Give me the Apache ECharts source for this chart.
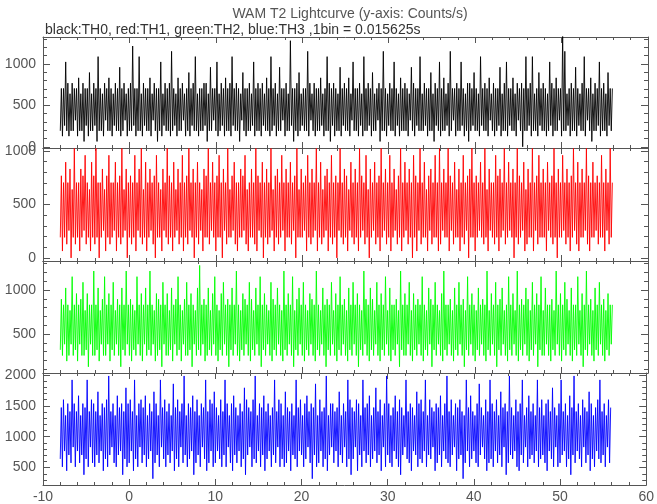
<!DOCTYPE html>
<html><head><meta charset="utf-8">
<script src="https://cdn.jsdelivr.net/npm/echarts@6/dist/echarts.min.js"></script>
<style>html,body{margin:0;padding:0;background:#fff}#c{width:657px;height:504px}</style>
</head><body><div id="c"></div>
<script>
// Time axis: bins start at -8 s (rebinned to 0.125 s per point)
const tStart = -8;
const binSec = 0.125;

// TH0 (black) counts/s
const th0 = [
192,704,128,704,256,1024,192,768,128,640,192,768,192,704,320,704,
128,832,192,640,192,768,64,704,256,704,128,896,192,640,192,768,
256,704,64,1088,192,704,192,640,128,768,320,704,192,832,192,704,
128,640,256,768,192,704,192,960,128,704,192,768,320,640,128,704,
192,768,192,1216,256,704,128,704,192,1088,192,640,128,768,256,704,
192,704,192,832,128,640,320,768,192,704,64,704,192,1024,128,640,
256,768,192,704,192,768,128,1152,192,704,256,640,128,832,192,704,
192,768,320,640,128,704,192,896,128,704,256,768,192,1088,192,640,
128,704,192,704,192,768,256,768,64,640,192,960,192,704,320,704,
192,1024,128,640,192,768,256,704,128,832,192,704,192,768,128,1088,
256,704,192,768,192,704,64,640,320,896,192,704,128,704,192,768,
192,640,256,1024,128,704,192,768,192,704,128,768,256,640,192,832,
192,704,128,1088,192,704,256,768,128,640,192,960,192,704,320,704,
128,768,192,640,192,1280,256,704,64,704,192,768,128,896,192,640,
256,704,192,704,192,1152,128,768,320,640,192,768,128,704,192,704,
192,832,256,640,128,704,192,1088,192,768,64,704,256,768,128,704,
192,640,192,960,128,704,256,768,192,704,192,832,128,640,320,1024,
192,704,192,704,128,768,256,640,128,1088,192,704,192,768,256,704,
128,896,192,640,192,704,320,768,64,704,192,1152,192,704,128,640,
256,768,192,704,192,1024,128,704,256,640,128,832,192,704,192,768,
192,704,128,640,320,960,192,768,128,704,256,704,192,1088,192,640,
192,768,256,704,128,704,192,896,192,640,64,768,256,704,192,1024,
128,704,192,832,192,640,256,768,128,1152,192,704,320,704,128,768,
192,704,192,1024,256,704,128,640,192,768,64,768,192,704,256,896,
192,704,192,640,128,1088,256,704,192,768,192,704,128,832,320,640,
192,768,128,704,192,704,256,960,128,640,192,768,192,1024,128,704,
256,704,192,832,192,640,128,768,320,704,192,768,0,704,192,1088,
192,704,256,768,128,1088,192,640,192,704,128,896,256,704,192,768,
192,704,128,640,192,1024,256,768,128,704,192,832,192,704,320,704,
128,1344,192,1152,192,640,256,704,128,768,192,704,192,960,128,704,
256,640,192,768,192,1088,128,704,320,704,192,832,64,640,192,768,
192,704,256,1024,128,704,192,768,192,640,128,896,256,704,192,704
];
// TH1 (red) counts/s
const th1 = [
192,768,64,704,192,896,128,704,256,832,0,640,192,1024,128,704,
192,704,64,832,192,768,256,960,128,704,192,640,64,896,192,768,
128,1024,192,704,0,704,192,832,256,640,64,768,192,960,128,704,
192,704,256,896,64,704,192,768,128,1024,192,640,256,832,0,704,
192,768,128,704,192,960,64,704,256,832,192,1024,128,640,192,896,
64,704,192,832,256,704,128,768,0,960,192,704,192,640,64,832,
256,704,192,1024,128,768,192,704,64,896,192,640,256,832,128,704,
192,960,64,704,192,768,128,1024,256,704,192,832,0,704,192,896,
128,704,256,640,64,832,192,768,192,1024,128,704,256,896,192,704,
64,768,192,960,192,704,0,832,256,704,128,1024,192,640,192,768,
256,896,128,704,64,704,192,832,192,768,256,960,128,640,64,704,
192,832,192,704,128,1024,64,768,256,704,192,896,0,704,192,832,
128,704,192,1024,256,640,64,768,192,832,128,704,192,960,256,704,
64,832,192,704,192,896,128,704,256,768,0,1024,192,640,192,832,
192,704,256,768,64,960,192,704,128,832,192,704,256,1024,64,704,
192,896,128,640,192,768,256,832,64,704,192,960,128,704,192,768,
0,704,256,1024,192,704,128,832,192,768,64,640,256,896,192,704,
128,832,192,704,64,1024,192,768,256,704,128,960,192,640,0,832,
192,704,256,896,128,704,192,768,64,1024,192,704,256,832,128,704,
192,960,64,704,192,832,256,640,128,768,192,1024,64,704,192,896,
256,704,128,832,192,704,0,960,192,768,64,704,256,1024,128,704,
192,896,192,640,64,768,256,832,128,704,192,960,192,704,64,1024,
128,704,256,832,192,704,192,1024,64,768,256,704,128,896,192,640,
192,832,64,704,192,960,128,704,256,768,0,832,192,1024,192,704,
64,768,192,704,256,896,192,704,128,1024,192,640,64,832,256,704,
192,704,128,960,192,768,64,832,192,704,256,1024,128,704,192,896,
256,704,192,832,0,704,192,1024,128,768,192,704,256,896,64,640,
128,832,192,704,192,1024,64,704,256,768,128,960,192,704,192,832,
192,704,64,896,256,704,192,768,128,1024,192,704,0,832,192,704,
192,960,256,704,128,832,192,704,64,768,192,1024,256,704,128,896,
64,704,192,832,192,704,256,1024,128,768,64,704,192,896,192,704,
256,768,128,704,192,960,192,704,64,832,256,704,128,1024,192,704
];
// TH2 (green) counts/s
const th2 = [
320,896,256,832,384,1024,192,832,256,768,384,1152,256,832,320,960,
192,832,384,896,256,1088,256,768,320,960,128,832,384,832,256,1216,
256,832,320,1024,192,768,384,896,256,1152,256,832,384,960,192,832,
320,1088,256,768,384,896,256,832,128,1024,320,832,256,1216,384,832,
256,896,192,832,320,768,256,1152,384,832,256,960,192,832,384,1024,
256,832,320,1216,256,832,384,768,192,960,256,896,320,832,128,1088,
384,832,256,960,256,768,320,1024,192,832,384,896,256,1152,320,832,
192,768,384,896,256,1088,256,832,320,960,128,832,384,768,256,1024,
320,1280,256,832,384,896,192,832,256,1024,320,768,256,960,384,1152,
256,832,192,768,320,960,256,1088,384,832,256,896,128,832,320,1024,
256,832,384,1216,256,832,192,768,320,960,256,896,384,832,256,1088,
192,896,320,768,256,1024,384,832,256,1152,128,832,320,960,256,832,
384,768,256,1088,192,896,320,832,256,1024,384,832,256,768,192,1216,
320,832,256,960,384,832,256,1152,128,768,320,896,256,1024,384,832,
256,1088,192,832,320,768,256,960,384,896,256,832,192,1216,320,832,
256,768,384,1024,256,832,128,896,320,832,256,1088,384,768,256,960,
192,832,320,1152,256,832,384,896,256,768,192,1024,320,832,256,1088,
384,832,256,960,128,832,320,768,256,1216,384,896,256,832,192,1024,
320,896,256,768,384,1088,256,832,192,960,320,832,256,1152,384,768,
256,1024,192,832,320,832,256,896,384,768,128,1216,320,832,256,960,
256,832,384,1088,256,768,192,960,320,832,256,896,384,832,256,1152,
192,832,320,768,256,1024,384,896,128,832,320,1088,256,832,384,768,
256,960,192,1216,320,832,256,832,384,896,256,768,192,1024,320,832,
256,1088,384,832,256,896,128,768,320,1152,256,832,384,960,256,832,
192,768,320,1024,256,832,384,896,256,832,192,1216,320,768,256,960,
384,832,256,1088,128,832,320,896,256,1024,384,768,256,832,192,1152,
320,832,256,960,384,768,256,1216,192,832,320,896,256,832,384,1024,
256,896,192,768,320,1088,256,832,384,960,128,832,320,1152,256,768,
256,1024,384,832,256,832,192,896,320,768,256,1216,384,832,256,960,
192,832,320,1088,256,896,384,768,256,1024,192,832,320,832,256,1152,
384,768,256,960,128,832,320,1216,256,832,384,896,256,768,192,1024,
320,832,256,1088,384,832,256,896,192,768,320,960,256,832,384,832
];
// TH3 (blue) counts/s
const th3 = [
640,1472,512,1600,768,1344,448,1536,704,1408,576,1920,832,1536,512,1408,
768,1664,576,1344,704,1536,384,1472,640,1920,512,1408,832,1600,576,1536,
512,1408,704,1728,576,1344,768,1536,448,1472,640,1600,512,1984,704,1408,
832,1536,576,1344,512,1664,704,1472,768,1536,384,1408,640,1792,512,1536,
576,1600,768,1408,448,1920,640,1344,512,1536,832,1600,576,1472,704,1664,
512,1344,640,1536,768,1408,320,1728,576,1536,704,1344,512,1920,832,1472,
640,1600,512,1408,704,1536,576,1344,768,1856,448,1472,640,1600,512,1408,
832,1536,576,1984,704,1344,512,1536,640,1472,768,1664,384,1408,576,1600,
704,1344,512,1536,832,1472,640,1920,448,1408,576,1600,768,1536,512,1728,
576,1472,768,1344,640,1600,512,1408,704,1920,512,1536,832,1344,576,1536,
448,1664,704,1472,576,1344,768,1536,512,1408,640,1792,384,1600,704,1472,
832,1408,512,1600,640,1984,576,1344,768,1536,512,1472,704,1664,448,1408,
640,1536,768,1344,512,1472,704,1920,576,1408,832,1600,512,1536,640,1344,
512,1728,576,1472,768,1408,448,1536,704,1344,640,1920,512,1472,768,1600,
704,1344,512,1536,640,1664,832,1408,576,1536,320,1472,704,1856,512,1344,
576,1600,768,1408,512,1472,640,1984,448,1344,704,1536,832,1536,576,1408,
768,1472,512,1728,704,1344,576,1536,832,1408,512,1920,640,1600,384,1472,
640,1408,832,1600,448,1536,704,1344,512,1920,768,1472,576,1536,704,1664,
512,1344,640,1472,768,1792,576,1408,704,1600,448,1344,832,1536,512,1984,
704,1536,576,1344,512,1472,768,1664,640,1408,512,1600,384,1472,704,1344,
832,1920,640,1408,576,1536,448,1472,768,1344,704,1728,512,1536,640,1600,
576,1408,768,1920,512,1344,704,1600,640,1472,832,1408,448,1536,576,1472,
704,1664,512,1344,768,1536,640,1984,576,1408,512,1600,704,1344,832,1536,
448,1472,640,1600,704,1408,320,1344,576,1920,768,1472,512,1664,640,1408,
768,1344,576,1536,512,1856,704,1472,832,1344,640,1600,448,1408,576,1920,
640,1536,512,1408,768,1600,576,1344,704,1728,512,1472,832,1536,384,1408,
576,1984,704,1472,640,1344,768,1600,512,1408,448,1536,704,1920,576,1344,
832,1472,512,1664,640,1408,704,1536,576,1344,768,1920,512,1472,640,1600,
704,1344,576,1536,448,1600,768,1408,640,1792,512,1472,832,1344,512,1536,
576,1920,704,1408,768,1536,512,1344,640,1664,384,1472,704,1984,576,1408,
768,1536,640,1344,512,1600,832,1472,576,1408,704,1728,448,1536,640,1344,
512,1472,768,1600,640,1920,576,1408,704,1536,512,1344,832,1600,576,1472
];

const seriesData = [th0, th1, th2, th3];
const seriesNames = ['TH0', 'TH1', 'TH2', 'TH3'];
const seriesColors = ['#000000', '#ff0000', '#00ff00', '#0000ff'];

// y-axis ranges and tick labels per panel
const yMin = [-15, -29, 57, 218];
const yMax = [1325, 1028, 1330, 2032];
const yMajor = [[0, 500, 1000], [0, 500, 1000], [500, 1000], [500, 1000, 1500, 2000]];
const yMinorStep = 100;

// x-axis
const xMin = -10, xMax = 60, xStep = 10;

const titleText = 'WAM T2 Lightcurve (y-axis: Counts/s)';
const subText = 'black:TH0, red:TH1, green:TH2, blue:TH3 ,1bin = 0.015625s';

const panelTop = [37, 148, 261, 373];
const panelH = [111, 113, 112, 113];
const frameColor = '#555';
const textColor = '#555';
const font = 'Liberation Sans';

function pairs(vals) { return vals.map((v, i) => [tStart + i * binSec, v]); }
function minorVals(p) {
  const out = [];
  const s = Math.ceil(yMin[p] / yMinorStep) * yMinorStep;
  for (let v = s; v <= yMax[p]; v += yMinorStep) out.push(v);
  return out;
}
const plain = v => String(v);

const grids = [], xAxes = [], yAxes = [], series = [];
for (let p = 0; p < 4; p++) {
  grids.push({ left: 43, right: 9, top: panelTop[p], height: panelH[p], containLabel: false });
  const xBase = {
    type: 'value', gridIndex: p, min: xMin, max: xMax, interval: xStep,
    splitLine: { show: false },
    axisLine: { show: true, onZero: false, lineStyle: { color: frameColor, width: 1 } },
    axisTick: { show: true, inside: true, length: 6, lineStyle: { color: frameColor } },
    minorTick: { show: true, splitNumber: 5, length: 3, lineStyle: { color: frameColor } }
  };
  xAxes.push(Object.assign({}, xBase, {
    position: 'bottom',
    axisLabel: { show: p === 3, margin: 5, color: textColor, fontFamily: font, fontSize: 14, formatter: plain }
  }));
  xAxes.push(Object.assign({}, xBase, { position: 'top', axisLabel: { show: false } }));
  const yBase = {
    type: 'value', gridIndex: p, min: yMin[p], max: yMax[p],
    splitLine: { show: false }
  };
  yAxes.push(Object.assign({}, yBase, {
    position: 'left',
    axisLine: { show: true, onZero: false, lineStyle: { color: frameColor } },
    axisTick: { show: true, inside: true, length: 7, customValues: yMajor[p], lineStyle: { color: frameColor } },
    axisLabel: { show: true, customValues: yMajor[p], margin: 7, color: textColor, fontFamily: font, fontSize: 14, formatter: plain }
  }));
  yAxes.push(Object.assign({}, yBase, {
    position: 'left',
    axisLine: { show: false, onZero: false },
    axisTick: { show: true, inside: true, length: 4, customValues: minorVals(p), lineStyle: { color: frameColor } },
    axisLabel: { show: false }
  }));
  yAxes.push(Object.assign({}, yBase, {
    position: 'right',
    axisLine: { show: true, onZero: false, lineStyle: { color: frameColor } },
    axisTick: { show: true, inside: true, length: 7, customValues: yMajor[p], lineStyle: { color: frameColor } },
    axisLabel: { show: false }
  }));
  yAxes.push(Object.assign({}, yBase, {
    position: 'right',
    axisLine: { show: false, onZero: false },
    axisTick: { show: true, inside: true, length: 4, customValues: minorVals(p), lineStyle: { color: frameColor } },
    axisLabel: { show: false }
  }));
  series.push({
    name: seriesNames[p], type: 'line', xAxisIndex: p * 2, yAxisIndex: p * 4,
    data: pairs(seriesData[p]), showSymbol: false, symbol: 'none', clip: true,
    lineStyle: { color: seriesColors[p], width: 1, opacity: 0.9 },
    itemStyle: { color: seriesColors[p] }
  });
}

const chart = echarts.init(document.getElementById('c'), null, { renderer: 'canvas' });
chart.setOption({
  animation: false,
  backgroundColor: '#fff',
  title: [
    { text: titleText, left: 345, top: 2, textAlign: 'center',
      textStyle: { fontFamily: font, fontSize: 14, fontWeight: 'normal', color: textColor } },
    { text: subText, left: 40, top: 18,
      textStyle: { fontFamily: font, fontSize: 14, fontWeight: 'normal', color: '#333' } }
  ],
  grid: grids, xAxis: xAxes, yAxis: yAxes, series: series
});
</script></body></html>
